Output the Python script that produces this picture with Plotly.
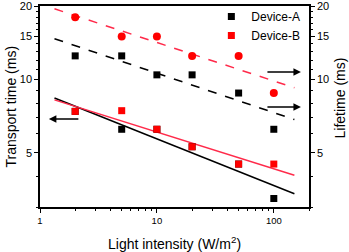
import plotly.graph_objects as go
import math

intensity = [2, 5, 10, 20, 50, 100]

# Transport time (ms), left axis
transport_A = [7.4, 6.25, 6.25, 5.3, 4.5, 3.25]
transport_B = [7.4, 7.45, 6.25, 5.3, 4.5, 4.5]

# Lifetime (ms), right axis
lifetime_A = [12.5, 12.5, 10.45, 10.45, 8.8, 6.25]
lifetime_B = [18.0, 15.0, 15.0, 12.5, 12.5, 8.8]

# Fitted lines (end points)
fit_x = [1.33, 150]
fit_transport_A = [8.4, 3.4]
fit_transport_B = [8.25, 4.05]
fit_lifetime_A = [14.7, 6.85]
fit_lifetime_B = [19.5, 9.25]

yticks = [5, 10, 15, 20]
yminor = [3, 4, 6, 7, 8, 9, 11, 12, 13, 14, 16, 17, 18, 19]
xticks = [1, 10, 100]
xticklabels = ["1", "10", "100"]
xminor = [2, 3, 4, 5, 6, 7, 8, 9, 20, 30, 40, 50, 60, 70, 80, 90, 200]

BLACK = "#000000"
RED = "#ff0000"
REDLINE = "#ff2a4a"

fig = go.Figure()

fig.add_trace(go.Scatter(x=fit_x, y=fit_transport_A, mode="lines",
                         line=dict(color=BLACK, width=1.5), showlegend=False))
fig.add_trace(go.Scatter(x=fit_x, y=fit_transport_B, mode="lines",
                         line=dict(color=REDLINE, width=1.5), showlegend=False))
fig.add_trace(go.Scatter(x=fit_x, y=fit_lifetime_A, mode="lines", yaxis="y2",
                         line=dict(color=BLACK, width=1.5, dash="dash"), showlegend=False))
fig.add_trace(go.Scatter(x=fit_x, y=fit_lifetime_B, mode="lines", yaxis="y2",
                         line=dict(color=REDLINE, width=1.5, dash="dash"), showlegend=False))

fig.add_trace(go.Scatter(x=intensity, y=transport_A, mode="markers", name="Device-A",
                         marker=dict(symbol="square", size=7, color=BLACK)))
fig.add_trace(go.Scatter(x=intensity, y=transport_B, mode="markers", name="Device-B",
                         marker=dict(symbol="square", size=7, color=RED)))
fig.add_trace(go.Scatter(x=intensity, y=lifetime_A, mode="markers", yaxis="y2",
                         marker=dict(symbol="square", size=7, color=BLACK), showlegend=False))
fig.add_trace(go.Scatter(x=intensity, y=lifetime_B, mode="markers", yaxis="y2",
                         marker=dict(symbol="circle", size=8, color=RED), showlegend=False))

yrange = [math.log10(3), math.log10(20.02)]
font = "Liberation Sans, Arial, sans-serif"

common_y = dict(
    type="log", range=yrange, tickmode="array", tickvals=yticks,
    ticktext=[str(v) for v in yticks], ticks="outside", ticklen=4, tickwidth=1,
    tickcolor=BLACK, showline=True, linecolor=BLACK, linewidth=1.5,
    showgrid=False, zeroline=False, automargin=False, ticklabeloverflow="allow",
    tickfont=dict(size=11, color=BLACK, family=font),
    minor=dict(tickmode="array", tickvals=yminor, ticks="outside", ticklen=2,
               tickcolor=BLACK, showgrid=False),
)

fig.update_layout(
    width=349, height=252,
    margin=dict(l=40, r=40, t=6, b=45, autoexpand=False),
    paper_bgcolor="white", plot_bgcolor="white",
    font=dict(family=font, color=BLACK, size=12),
    xaxis=dict(
        type="log", range=[0, math.log10(200)],
        tickmode="array", tickvals=xticks, ticktext=xticklabels,
        ticks="outside", ticklen=4, tickcolor=BLACK,
        showline=True, linecolor=BLACK, linewidth=1.5, mirror=True,
        showgrid=False, zeroline=False, automargin=False, ticklabeloverflow="allow",
        tickfont=dict(size=9.5, color=BLACK, family=font),
        minor=dict(tickmode="array", tickvals=xminor, ticks="outside", ticklen=2,
                   tickcolor=BLACK, showgrid=False),
    ),
    yaxis=dict(**common_y, side="left"),
    yaxis2=dict(**common_y, side="right", overlaying="y"),
    legend=dict(x=0.637, y=1.02, xanchor="left", yanchor="top",
                bgcolor="rgba(0,0,0,0)", borderwidth=0,
                font=dict(size=12, family=font), itemwidth=30, tracegroupgap=0),
    showlegend=True,
)

# axis titles
fig.add_annotation(text="Light intensity (W/m<sup>2</sup>)", xref="paper", yref="paper",
                   x=0.5, y=0, yshift=-36, showarrow=False, font=dict(size=14),
                   xanchor="center", yanchor="middle")
fig.add_annotation(text="Transport time (ms)", xref="paper", yref="paper",
                   x=0, y=0.5, xshift=-30, textangle=-90, showarrow=False,
                   font=dict(size=14), xanchor="center", yanchor="middle")
fig.add_annotation(text="Lifetime (ms)", xref="paper", yref="paper",
                   x=1, y=0.54, xshift=31, textangle=-90, showarrow=False,
                   font=dict(size=14), xanchor="center", yanchor="middle")

arrow = dict(showarrow=True, arrowhead=2, arrowsize=1, arrowwidth=1.5,
             arrowcolor=BLACK, text="", xref="paper", yref="paper", ay=0)
fig.add_annotation(x=0.033, y=0.438, ax=31, **arrow)
fig.add_annotation(x=0.970, y=0.672, ax=-35, **arrow)
fig.add_annotation(x=0.970, y=0.4975, ax=-35, **arrow)

fig.write_html("out.html", config={"displayModeBar": False},
               post_script="document.body.style.margin='0';document.body.style.padding='0';")
